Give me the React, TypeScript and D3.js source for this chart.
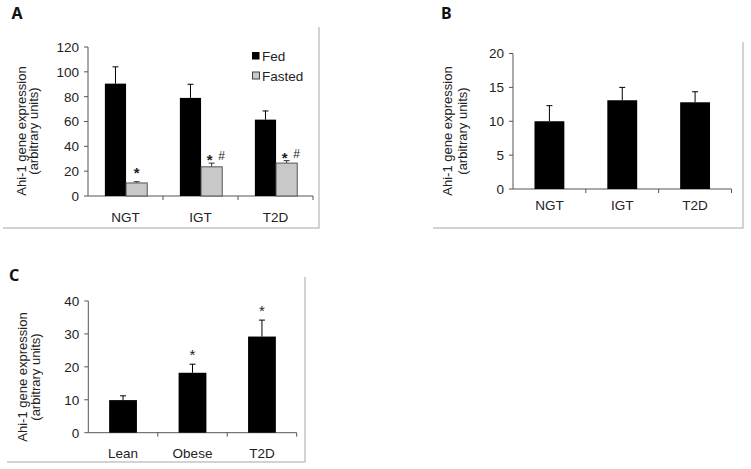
import React from "react";
import * as d3 from "d3";

// ---------- DATA ----------
const groupsAB = ["NGT", "IGT", "T2D"];
const seriesA = ["Fed", "Fasted"];
const fedA = [90.5, 79, 61.5];
const fedSemA = [13.5, 11, 7];
const fastedA = [10.5, 23.5, 26.5];
const fastedSemA = [1, 3, 2];
const fastedMarksA = ["*", "* #", "* #"];
const ticksA = [0, 20, 40, 60, 80, 100, 120];

const valuesB = [10, 13.1, 12.8];
const semB = [2.3, 1.9, 1.55];
const ticksB = [0, 5, 10, 15, 20];

const groupsC = ["Lean", "Obese", "T2D"];
const valuesC = [9.9, 18.2, 29.2];
const semC = [1.3, 2.6, 5];
const marksC = ["", "*", "*"];
const ticksC = [0, 10, 20, 30, 40];

const FONT = "Arial, 'Liberation Sans', Helvetica, sans-serif";
const AXIS = "#555";
const TXT = "#222";
const FRAME = "#c4c4c4";
const GREY = "#c8c8c8";

type AxisProps = {
  x0: number; x1: number; y: d3.ScaleLinear<number, number>;
  ticks: number[]; groups: string[]; band: d3.ScaleBand<string>; labelDy: number;
  titleX: number; titleGap: number; titleCy: number;
};

function Axes({ x0, x1, y, ticks, groups, band, labelDy, titleX, titleGap, titleCy }: AxisProps) {
  const y0 = y(0);
  const step = band.step();
  const bounds = d3.range(groups.length + 1).map((i) => x0 + i * step);
  return (
    <g fontFamily={FONT}>
      <line x1={x0} x2={x0} y1={y(ticks[ticks.length - 1])} y2={y0} stroke={AXIS} strokeWidth={1} />
      <line x1={x0} x2={x1} y1={y0} y2={y0} stroke={AXIS} strokeWidth={1} />
      {ticks.map((t) => (
        <g key={t}>
          <line x1={x0 - 4} x2={x0} y1={y(t)} y2={y(t)} stroke={AXIS} />
          <text x={x0 - 9} y={y(t)} dy="0.36em" textAnchor="end" fontSize={13.5} fill={TXT}>{t}</text>
        </g>
      ))}
      {bounds.slice(1).map((b, i) => (
        <line key={i} x1={b} x2={b} y1={y0} y2={y0 + 4} stroke={AXIS} />
      ))}
      {groups.map((g) => (
        <text key={g} x={(band(g) as number) + band.bandwidth() / 2} y={y0 + labelDy} textAnchor="middle" fontSize={13.5} fill={TXT}>{g}</text>
      ))}
      <g transform={`translate(${titleX},${titleCy}) rotate(-90)`}>
        <text x={0} y={0} textAnchor="middle" fontSize={13} fill={TXT}>Ahi-1 gene expression</text>
        <text x={0} y={titleGap} textAnchor="middle" fontSize={13} fill={TXT}>(arbitrary units)</text>
      </g>
    </g>
  );
}

function ErrBar({ cx, yTop, yEnd, color }: { cx: number; yTop: number; yEnd: number; color: string }) {
  return (
    <g stroke={color} strokeWidth={1}>
      <line x1={cx} x2={cx} y1={yEnd} y2={yTop} />
      <line x1={cx - 3} x2={cx + 3} y1={yTop} y2={yTop} />
    </g>
  );
}

function PanelA() {
  const x0 = 88, x1 = 313;
  const y = d3.scaleLinear().domain([0, 120]).range([196, 47]);
  const band = d3.scaleBand<string>().domain(groupsAB).range([x0, x1]);
  const inner = d3.scaleBand<string>().domain(seriesA).range([band.bandwidth() * 0.225, band.bandwidth() * 0.79]);
  const bw = inner.bandwidth();
  const data = [fedA, fastedA];
  const sems = [fedSemA, fastedSemA];
  return (
    <g>
      <Axes x0={x0} x1={x1} y={y} ticks={ticksA} groups={groupsAB} band={band} labelDy={26}
        titleX={26} titleGap={12} titleCy={131} />
      {groupsAB.map((g, gi) =>
        seriesA.map((s, si) => {
          const bx = (band(g) as number) + (inner(s) as number);
          const v = data[si][gi];
          const e = v + sems[si][gi];
          const fill = si === 0 ? "#000" : GREY;
          return (
            <g key={g + s}>
              <ErrBar cx={bx + bw / 2} yTop={y(e)} yEnd={y(v)} color={si === 0 ? "#000" : "#333"} />
              <rect x={bx} y={y(v)} width={bw} height={y(0) - y(v)} fill={fill}
                stroke={si === 0 ? "#000" : "#555"} strokeWidth={si === 0 ? 0 : 1} />
            </g>
          );
        })
      )}
      {groupsAB.map((g, gi) => {
        const bx = (band(g) as number) + (inner("Fasted") as number) + bw / 2;
        const yTop = y(fastedA[gi] + fastedSemA[gi]);
        const m = fastedMarksA[gi];
        if (m.length === 1) {
          return <text key={g} x={bx} y={yTop - 4} textAnchor="middle" fontFamily={FONT} fontSize={15} fontWeight="bold" fill={TXT}>*</text>;
        }
        return (
          <g key={g} fontFamily={FONT} fill={TXT}>
            <text x={bx - 2} y={yTop + 2} textAnchor="middle" fontSize={15} fontWeight="bold">*</text>
            <text x={bx + 10} y={yTop - 3} textAnchor="middle" fontSize={12}>#</text>
          </g>
        );
      })}
      {/* legend */}
      <g fontFamily={FONT} fontSize={13.5} fill={TXT}>
        <rect x={252} y={52} width={7.5} height={7.5} fill="#000" />
        <text x={262} y={61}>{seriesA[0]}</text>
        <rect x={252.5} y={72} width={7} height={7} fill={GREY} stroke="#444" strokeWidth={1} />
        <text x={262} y={81}>{seriesA[1]}</text>
      </g>
    </g>
  );
}

function PanelB() {
  const x0 = 513, x1 = 731.5;
  const y = d3.scaleLinear().domain([0, 20]).range([189, 53.5]);
  const band = d3.scaleBand<string>().domain(groupsAB).range([x0, x1]).paddingInner(0.59).paddingOuter(0.295);
  return (
    <g>
      <Axes x0={x0} x1={x1} y={y} ticks={ticksB} groups={groupsAB} band={band} labelDy={21}
        titleX={452} titleGap={15} titleCy={131} />
      {groupsAB.map((g, i) => {
        const bx = band(g) as number;
        const v = valuesB[i];
        return (
          <g key={g}>
            <ErrBar cx={bx + band.bandwidth() / 2} yTop={y(v + semB[i])} yEnd={y(v)} color="#000" />
            <rect x={bx} y={y(v)} width={band.bandwidth()} height={y(0) - y(v)} fill="#000" />
          </g>
        );
      })}
    </g>
  );
}

function PanelC() {
  const x0 = 88.3, x1 = 296.7;
  const y = d3.scaleLinear().domain([0, 40]).range([432.7, 301]);
  const band = d3.scaleBand<string>().domain(groupsC).range([x0, x1]).paddingInner(0.6).paddingOuter(0.3);
  return (
    <g>
      <Axes x0={x0} x1={x1} y={y} ticks={ticksC} groups={groupsC} band={band} labelDy={25}
        titleX={27} titleGap={13} titleCy={377} />
      {groupsC.map((g, i) => {
        const bx = band(g) as number;
        const v = valuesC[i];
        const yTop = y(v + semC[i]);
        return (
          <g key={g}>
            <ErrBar cx={bx + band.bandwidth() / 2} yTop={yTop} yEnd={y(v)} color="#000" />
            <rect x={bx} y={y(v)} width={band.bandwidth()} height={y(0) - y(v)} fill="#000" />
            {marksC[i] && (
              <text x={bx + band.bandwidth() / 2} y={yTop - 4} textAnchor="middle" fontFamily={FONT}
                fontSize={15} fill={TXT}>{marksC[i]}</text>
            )}
          </g>
        );
      })}
    </g>
  );
}

export default function App() {
  const letterFont = "'Noto Sans', 'Open Sans', Arial, sans-serif";
  return (
    <svg width={751} height={469} style={{ position: "absolute", left: 0, top: 0, background: "#fff" }}>
      <rect width={751} height={469} fill="#fff" />
      {/* panel frames */}
      <g stroke={FRAME} strokeWidth={1.5} fill="none">
        <polyline points="3,228 319,228 319,27" />
        <polyline points="433,228 743,228 743,42" />
        <polyline points="7,462 305,462 305,277" />
      </g>
      <g fontFamily={letterFont} fontWeight="bold" fontSize={16} fill="#111">
        <text x={11.5} y={18.5}>A</text>
        <text x={441} y={19}>B</text>
        <text x={9} y={281}>C</text>
      </g>
      <PanelA />
      <PanelB />
      <PanelC />
    </svg>
  );
}
